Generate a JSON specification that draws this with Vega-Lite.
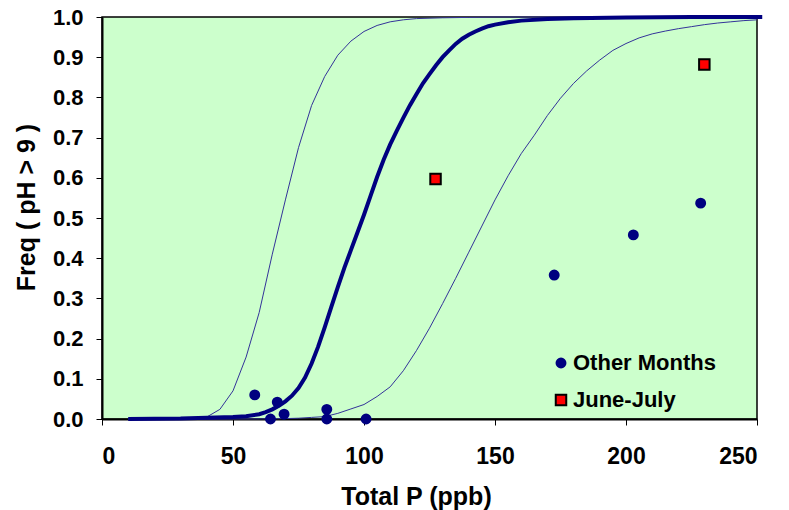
{
  "$schema": "https://vega.github.io/schema/vega-lite/v6.json",
  "autosize": "none",
  "width": 655,
  "height": 402,
  "padding": {"left": 102, "top": 17, "right": 32, "bottom": 91},
  "background": "white",
  "config": {
    "font": "Liberation Sans",
    "view": {"fill": "#CCFFCC", "stroke": "black", "strokeWidth": 1.5},
    "axis": {
      "grid": false,
      "domainColor": "black",
      "domainWidth": 2,
      "tickColor": "black",
      "tickWidth": 1,
      "tickSize": 6,
      "labelFont": "Liberation Sans",
      "labelFontWeight": "bold",
      "labelColor": "black",
      "titleFont": "Liberation Sans",
      "titleFontWeight": "bold",
      "titleColor": "black"
    },
    "legend": {
      "orient": "none",
      "legendX": 448,
      "legendY": 335,
      "padding": 0,
      "labelFont": "Liberation Sans",
      "labelFontSize": 22,
      "labelFontWeight": "bold",
      "labelColor": "black",
      "labelOffset": 1,
      "rowPadding": 15,
      "symbolStrokeWidth": 2
    }
  },
  "datasets": {
    "curves": [
      {"x": 10, "p": 0, "curve": "lower"}, {"x": 15, "p": 0, "curve": "lower"}, {"x": 20, "p": 0, "curve": "lower"}, {"x": 25, "p": 0, "curve": "lower"}, {"x": 30, "p": 0, "curve": "lower"}, {"x": 35, "p": 0.001, "curve": "lower"},
      {"x": 40, "p": 0.005, "curve": "lower"}, {"x": 45, "p": 0.024, "curve": "lower"}, {"x": 50, "p": 0.07, "curve": "lower"}, {"x": 55, "p": 0.154, "curve": "lower"},
      {"x": 60, "p": 0.265, "curve": "lower"}, {"x": 65, "p": 0.41, "curve": "lower"}, {"x": 70, "p": 0.545, "curve": "lower"}, {"x": 75, "p": 0.675, "curve": "lower"},
      {"x": 80, "p": 0.78, "curve": "lower"}, {"x": 85, "p": 0.852, "curve": "lower"}, {"x": 90, "p": 0.905, "curve": "lower"}, {"x": 95, "p": 0.94, "curve": "lower"},
      {"x": 100, "p": 0.964, "curve": "lower"}, {"x": 105, "p": 0.979, "curve": "lower"}, {"x": 110, "p": 0.988, "curve": "lower"}, {"x": 115, "p": 0.993, "curve": "lower"},
      {"x": 120, "p": 0.996, "curve": "lower"}, {"x": 130, "p": 0.998, "curve": "lower"}, {"x": 140, "p": 0.999, "curve": "lower"}, {"x": 150, "p": 1.0, "curve": "lower"},
      {"x": 200, "p": 1.0, "curve": "lower"}, {"x": 250, "p": 1.0, "curve": "lower"},

      {"x": 10, "p": 0, "curve": "upper"}, {"x": 20, "p": 0, "curve": "upper"}, {"x": 30, "p": 0, "curve": "upper"}, {"x": 40, "p": 0, "curve": "upper"}, {"x": 50, "p": 0, "curve": "upper"},
      {"x": 60, "p": 0.0002, "curve": "upper"}, {"x": 65, "p": 0.0005, "curve": "upper"}, {"x": 70, "p": 0.001, "curve": "upper"}, {"x": 75, "p": 0.002, "curve": "upper"},
      {"x": 80, "p": 0.004, "curve": "upper"}, {"x": 85, "p": 0.006, "curve": "upper"}, {"x": 90, "p": 0.014, "curve": "upper"}, {"x": 95, "p": 0.025, "curve": "upper"},
      {"x": 100, "p": 0.036, "curve": "upper"}, {"x": 105, "p": 0.056, "curve": "upper"}, {"x": 110, "p": 0.08, "curve": "upper"}, {"x": 115, "p": 0.12, "curve": "upper"},
      {"x": 120, "p": 0.17, "curve": "upper"}, {"x": 125, "p": 0.226, "curve": "upper"}, {"x": 130, "p": 0.287, "curve": "upper"}, {"x": 135, "p": 0.35, "curve": "upper"},
      {"x": 140, "p": 0.415, "curve": "upper"}, {"x": 145, "p": 0.48, "curve": "upper"}, {"x": 150, "p": 0.545, "curve": "upper"}, {"x": 155, "p": 0.605, "curve": "upper"},
      {"x": 160, "p": 0.66, "curve": "upper"}, {"x": 165, "p": 0.706, "curve": "upper"}, {"x": 170, "p": 0.755, "curve": "upper"}, {"x": 175, "p": 0.798, "curve": "upper"},
      {"x": 180, "p": 0.835, "curve": "upper"}, {"x": 185, "p": 0.866, "curve": "upper"}, {"x": 190, "p": 0.893, "curve": "upper"}, {"x": 195, "p": 0.917, "curve": "upper"},
      {"x": 200, "p": 0.934, "curve": "upper"}, {"x": 205, "p": 0.948, "curve": "upper"}, {"x": 210, "p": 0.958, "curve": "upper"}, {"x": 215, "p": 0.965, "curve": "upper"},
      {"x": 220, "p": 0.971, "curve": "upper"}, {"x": 225, "p": 0.976, "curve": "upper"}, {"x": 230, "p": 0.981, "curve": "upper"}, {"x": 235, "p": 0.985, "curve": "upper"},
      {"x": 240, "p": 0.988, "curve": "upper"}, {"x": 245, "p": 0.991, "curve": "upper"}, {"x": 250, "p": 0.993, "curve": "upper"}
    ],
    "mid": [
      {"x": 10, "p": 0}, {"x": 20, "p": 0.0005}, {"x": 30, "p": 0.001}, {"x": 40, "p": 0.003}, {"x": 50, "p": 0.005}, {"x": 55, "p": 0.007},
      {"x": 60, "p": 0.012}, {"x": 62.5, "p": 0.017}, {"x": 65, "p": 0.024}, {"x": 67.5, "p": 0.033}, {"x": 70, "p": 0.044}, {"x": 72.5, "p": 0.058},
      {"x": 75, "p": 0.077}, {"x": 77.5, "p": 0.103}, {"x": 80, "p": 0.138}, {"x": 82.5, "p": 0.18}, {"x": 85, "p": 0.228}, {"x": 87.5, "p": 0.278},
      {"x": 90, "p": 0.328}, {"x": 92.5, "p": 0.376}, {"x": 95, "p": 0.42}, {"x": 97.5, "p": 0.464}, {"x": 100, "p": 0.508}, {"x": 102.5, "p": 0.555},
      {"x": 105, "p": 0.602}, {"x": 107.5, "p": 0.645}, {"x": 110, "p": 0.683}, {"x": 112.5, "p": 0.717}, {"x": 115, "p": 0.749}, {"x": 117.5, "p": 0.78},
      {"x": 120, "p": 0.808}, {"x": 122.5, "p": 0.835}, {"x": 125, "p": 0.858}, {"x": 127.5, "p": 0.88}, {"x": 130, "p": 0.9}, {"x": 132.5, "p": 0.917},
      {"x": 135, "p": 0.933}, {"x": 137.5, "p": 0.946}, {"x": 140, "p": 0.956}, {"x": 142.5, "p": 0.964}, {"x": 145, "p": 0.971}, {"x": 147.5, "p": 0.977},
      {"x": 150, "p": 0.981}, {"x": 155, "p": 0.987}, {"x": 160, "p": 0.991}, {"x": 170, "p": 0.995}, {"x": 180, "p": 0.997}, {"x": 200, "p": 0.999},
      {"x": 225, "p": 1.0}, {"x": 252, "p": 1.0}
    ],
    "obs": [
      {"tp": 58.3, "freq": 0.06, "series": "Other Months"},
      {"tp": 64.3, "freq": 0.0, "series": "Other Months"},
      {"tp": 66.9, "freq": 0.042, "series": "Other Months"},
      {"tp": 69.5, "freq": 0.012, "series": "Other Months"},
      {"tp": 85.8, "freq": 0.024, "series": "Other Months"},
      {"tp": 85.8, "freq": 0.0, "series": "Other Months"},
      {"tp": 100.8, "freq": 0.0, "series": "Other Months"},
      {"tp": 172.6, "freq": 0.358, "series": "Other Months"},
      {"tp": 202.8, "freq": 0.458, "series": "Other Months"},
      {"tp": 228.5, "freq": 0.537, "series": "Other Months"},
      {"tp": 127.3, "freq": 0.597, "series": "June-July"},
      {"tp": 229.9, "freq": 0.882, "series": "June-July"}
    ]
  },
  "layer": [
    {
      "data": {"name": "curves"},
      "mark": {"type": "line", "color": "#333399", "strokeWidth": 1, "clip": false},
      "encoding": {
        "x": {"field": "x", "type": "quantitative", "scale": {"domain": [0, 250], "nice": false},
          "axis": {"title": "Total P (ppb)", "values": [0, 50, 100, 150, 200, 250], "labelFontSize": 23, "labelPadding": 20, "titleFontSize": 25, "titlePadding": 16, "titleX": 314, "titleAlign": "center"}},
        "y": {"field": "p", "type": "quantitative", "scale": {"domain": [0, 1], "nice": false},
          "axis": {"title": "Freq ( pH > 9 )", "values": [0, 0.1, 0.2, 0.3, 0.4, 0.5, 0.6, 0.7, 0.8, 0.9, 1.0], "format": ".1f", "labelFontSize": 22, "labelPadding": 13, "titleFontSize": 25, "titlePadding": 13, "titleY": 190, "titleAlign": "center"}},
        "detail": {"field": "curve"}
      }
    },
    {
      "data": {"name": "mid"},
      "mark": {"type": "line", "color": "#000080", "strokeWidth": 4, "clip": false},
      "encoding": {
        "x": {"field": "x", "type": "quantitative"},
        "y": {"field": "p", "type": "quantitative"}
      }
    },
    {
      "data": {"name": "obs"},
      "mark": {"type": "point", "filled": true, "opacity": 1, "strokeWidth": 2},
      "encoding": {
        "x": {"field": "tp", "type": "quantitative"},
        "y": {"field": "freq", "type": "quantitative"},
        "shape": {"field": "series", "type": "nominal",
          "scale": {"domain": ["Other Months", "June-July"], "range": ["circle", "square"]},
          "legend": {"title": null}},
        "fill": {"field": "series", "type": "nominal",
          "scale": {"domain": ["Other Months", "June-July"], "range": ["#000080", "#FF0000"]},
          "legend": {"title": null}},
        "stroke": {"field": "series", "type": "nominal",
          "scale": {"domain": ["Other Months", "June-July"], "range": ["#000080", "#000000"]},
          "legend": {"title": null}},
        "size": {"field": "series", "type": "nominal",
          "scale": {"domain": ["Other Months", "June-July"], "range": [80, 110]},
          "legend": {"title": null}}
      }
    }
  ]
}
